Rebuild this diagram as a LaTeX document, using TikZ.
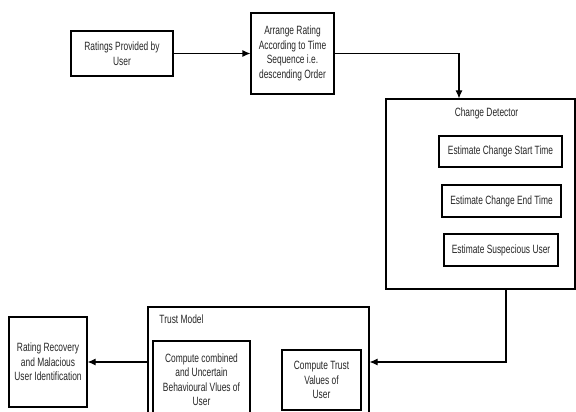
\documentclass[tikz,border=0pt]{standalone}
\usepackage{fontspec}
\setmainfont{Liberation Sans}[FakeStretch=0.7]
\usetikzlibrary{arrows.meta}

\begin{document}
\begin{tikzpicture}[x=1pt, y=-1pt,
  box/.style={draw, line width=1.1pt, align=center, inner sep=0pt, text=black!85,
    font=\fontsize{12}{14.5}\selectfont},
  title/.style={text=black!85, font=\fontsize{12}{12}\selectfont},
  link/.style={line width=1.1pt, -{Latex[length=8pt, width=7pt]}}]
  \useasboundingbox (0,0) rectangle (576,412);
  \clip (0,0) rectangle (576,412);
  \node[box, minimum width=102pt, minimum height=45pt] (ratings) at (122,53.5) {Ratings Provided by\\User};
  \node[box, minimum width=83pt, minimum height=81pt] (arrange) at (292.5,53.5) {Arrange Rating\\According to Time\\Sequence i.e.\\descending Order};
  \node[box, minimum width=189pt, minimum height=190pt] (detector) at (480.5,194) {};
  \node[title] (detectorlabel) at (486.5,113) {Change Detector};
  \node[box, minimum width=123pt, minimum height=31pt] (start) at (500.5,151.5) {Estimate Change Start Time};
  \node[box, minimum width=119pt, minimum height=32pt] (finish) at (501.5,201) {Estimate Change End Time};
  \node[box, minimum width=114pt, minimum height=32pt] (suspect) at (501,250) {Estimate Suspecious User};
  \node[box, minimum width=221pt, minimum height=110pt] (trust) at (258.5,362) {};
  \node[title] (trustlabel) at (181.5,319) {Trust Model};
  \node[box, minimum width=97pt, minimum height=77pt] (combined) at (201.5,379.5) {Compute combined\\and Uncertain\\Behavioural Vlues of\\User};
  \node[box, minimum width=79pt, minimum height=60pt] (values) at (321.5,380) {Compute Trust\\Values of\\User};
  \node[box, minimum width=78pt, minimum height=90pt] (recovery) at (48,362) {Rating Recovery\\and Malacious\\User Identification};
  \draw[link] (ratings) -- (arrange);
  \draw[link] (arrange.east) -| ([xshift=-21.5pt]detector.north);
  \draw[link] ([xshift=25.5pt]detector.south) |- (trust.east);
  \draw[link] (trust.west) -- (recovery.east);
\end{tikzpicture}
\end{document}
